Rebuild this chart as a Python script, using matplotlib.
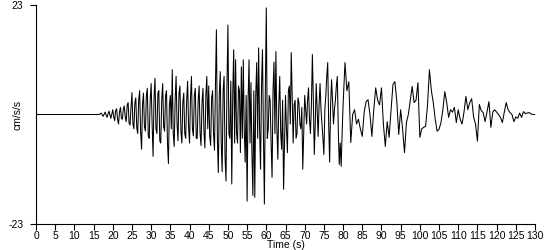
import numpy as np
import matplotlib
matplotlib.use("Agg")
import matplotlib.pyplot as plt

plt.rcParams['font.family'] = ['Liberation Sans', 'DejaVu Sans']

# Acceleration record (cm/s/s)
# 0 - 19.5 s every 0.5 s
quiet = [0.0] * 32  # flat before the first arrival
accel_16_20 = [0.0, 0.0, 0.3, -0.4, 0.5, -0.6, 0.7, -0.8]

# 20 - 79.75 s every 0.25 s (dense part of the record)
accel_20_25 = [1.0, -0.5, -1.3, 0.8, 1.2, -1.0, -2.0, 0.5, 1.5, -0.8,
               -1.0, 1.2, 1.8, -0.6, -1.5, 2.0, 2.5, -1.8, -2.2, 1.5]
accel_25_30 = [4.6, -2.0, -3.0, 2.5, 3.5, -2.8, -4.0, 3.0, 5.0, -3.5,
               -7.3, 2.0, 4.5, -2.5, -3.5, 4.0, 5.5, -4.5, -5.0, 3.0]
accel_30_35 = [6.5, -2.0, -8.8, 3.5, 7.6, -3.0, -4.0, 4.5, 5.0, -5.5,
               -6.0, 3.0, 6.5, -2.5, -3.5, 4.0, 5.0, -6.0, -10.3, 2.0]
accel_35_40 = [4.0, -3.0, 9.4, -4.0, -6.7, 3.0, 8.0, -2.0, -5.5, 4.5,
               6.0, -3.5, -6.0, 2.5, 4.5, -4.0, -5.0, 3.0, 7.0, -2.5]
accel_40_45 = [-6.0, 3.5, 8.0, -3.0, -4.5, 4.0, 5.5, -5.0, -5.0, 3.0,
               6.0, -4.0, -6.5, 2.5, 5.5, -3.5, -7.0, 4.0, 8.0, -3.0]
accel_45_50 = [6.0, -4.5, -6.5, 3.5, 5.0, -4.0, -7.5, 6.0, 17.8, -5.0,
               -12.2, 4.0, 9.0, -6.0, -12.0, 5.0, 8.0, -9.0, -14.0, 6.0]
accel_50_55 = [18.8, -4.0, -5.0, 7.0, -14.6, 4.0, 13.6, -6.0, 11.5, -4.0,
               -6.0, 6.0, 5.0, -8.0, 10.0, -5.0, 11.5, -3.0, -10.0, 4.0]
accel_55_60 = [-18.2, 3.0, 11.5, -6.0, 6.7, -8.0, -17.0, 5.0, -17.4, 4.0,
               10.9, -5.0, 14.0, -3.0, -11.5, 6.0, 13.6, -4.0, -18.8, 5.0]
accel_60_65 = [22.4, -5.0, -3.0, 4.0, 3.0, -6.0, -13.2, 5.0, 11.0, -4.0,
               13.2, -3.0, -9.4, 2.0, 8.0, -4.0, -7.3, 3.0, -15.7, -6.0]
accel_65_70 = [4.0, -3.0, -8.0, 5.0, 6.0, -2.0, 13.0, 4.0, -6.0, 2.0,
               3.0, -5.0, -4.0, 3.5, 2.5, -2.0, -3.0, 1.5, -11.5, -4.0]
accel_70_75 = [4.0, 1.0, -2.0, 3.0, 5.6, -1.0, -4.0, 2.0, 12.6, 3.0,
               -8.4, -2.0, 6.5, 1.0, -4.6, 2.0, 6.5, 1.0, -2.0, -5.0]
accel_75_80 = [-8.4, 1.0, 4.0, 8.0, 10.9, -2.0, -10.0, 2.0, 7.3, 3.0,
               -2.0, 1.0, 3.0, 6.0, 8.0, -3.0, -10.5, -6.0, -10.9, -4.0]

# 80 - 130 s every 0.5 s
accel_80_85 = [2.0, 10.9, 5.0, 6.9, -5.9, 0.0, 1.0, -2.0, -1.0, -3.0]
accel_85_90 = [-4.6, 0.5, 2.7, 3.1, 0.0, -4.6, 1.0, 5.6, 3.0, 2.0]
accel_90_95 = [5.6, -2.0, -6.7, -1.5, -4.8, 1.0, 6.3, 6.9, 2.7, -4.2]
accel_95_100 = [1.0, -3.0, -8.0, -1.7, 0.0, 3.0, 5.9, 2.5, 3.0, 6.7]
accel_100_105 = [-4.8, -3.0, -2.7, -2.5, 2.0, 9.4, 5.0, 2.5, -1.0, -3.5]
accel_105_110 = [-3.1, -1.7, 1.0, 4.8, 2.5, -0.6, 1.0, 0.5, 1.5, -1.7]
accel_110_115 = [1.0, -1.0, -2.0, 0.5, 3.8, 1.0, 2.5, 3.3, -0.5, -2.0]
accel_115_120 = [-5.6, 2.1, 0.8, 0.4, -1.5, 0.6, 2.7, -2.7, 0.5, 1.0]
accel_120_125 = [0.5, 0.0, -0.6, -1.7, 0.5, 2.5, 1.0, 0.4, 0.0, -1.5]
accel_125_130 = [-0.5, -0.8, 0.3, -0.6, 0.6, 0.2, 0.3, 0.4, 0.1, 0.0, 0.0]

early = quiet + accel_16_20
dense = (accel_20_25 + accel_25_30 + accel_30_35 + accel_35_40 + accel_40_45
         + accel_45_50 + accel_50_55 + accel_55_60 + accel_60_65 + accel_65_70
         + accel_70_75 + accel_75_80)
late = (accel_80_85 + accel_85_90 + accel_90_95 + accel_95_100 + accel_100_105
        + accel_105_110 + accel_110_115 + accel_115_120 + accel_120_125
        + accel_125_130)

t_early = np.arange(len(early)) * 0.5
t_dense = 20 + np.arange(len(dense)) * 0.25
t_late = 80 + np.arange(len(late)) * 0.5
time = np.concatenate([t_early, t_dense, t_late])
accel = np.array(early + dense + late)

x_ticks = list(range(0, 131, 5))
y_limit = 23

fig = plt.figure(figsize=(5.5, 2.5), dpi=100)
ax = fig.add_axes([36 / 550, 26 / 250, 499 / 550, 219 / 250])

ax.plot(time, accel, color='black', linewidth=0.75)

ax.set_xlim(0, 130)
ax.set_ylim(-y_limit, y_limit)
ax.set_xticks(x_ticks)
ax.set_xticklabels([str(t) for t in x_ticks], fontsize=7.5)
ax.set_yticks([-y_limit, y_limit])
ax.set_yticklabels([str(-y_limit), str(y_limit)], fontsize=7.5)
ax.tick_params(axis='x', direction='out', length=4, width=0.8, pad=1)
ax.tick_params(axis='y', direction='out', length=4, width=0.8, pad=5)
ax.set_xlabel("Time (s)", fontsize=7.5, labelpad=-1)
ax.set_ylabel("cm/s/s", fontsize=7.5)
ax.yaxis.set_label_coords(-0.028, 0.5)

for side in ['top', 'right']:
    ax.spines[side].set_visible(False)
for side in ['left', 'bottom']:
    ax.spines[side].set_linewidth(0.8)

fig.savefig("out.png", dpi=100)
